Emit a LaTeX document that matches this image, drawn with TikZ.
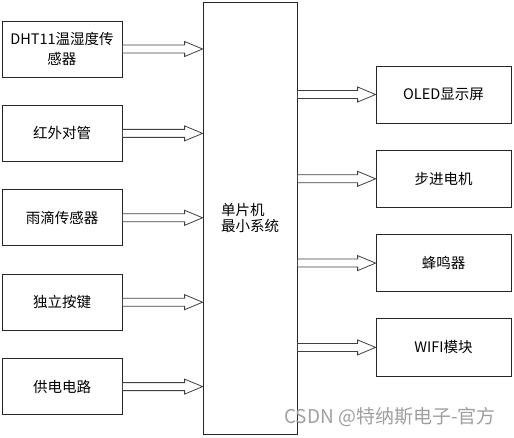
\documentclass[tikz,border=0pt]{standalone}
\usepackage{fontspec}
\setmainfont{Noto Sans CJK SC}
\usetikzlibrary{positioning,calc}

\begin{document}
\begin{tikzpicture}[
  x=1pt, y=1pt,
  node distance=27.6pt,
  box/.style={draw=black!85,line width=0.8pt,align=center,inner sep=0pt,font=\fontsize{14.5}{20}\selectfont},
  inbox/.style={box,minimum width=120pt,minimum height=56pt},
  outbox/.style={box,minimum width=135pt,minimum height=57pt},
  arrow/.style={draw=black!75,line width=0.8pt,to path={
    ($(\tikztostart)+(0,4)$) -- ($(\tikztotarget)+(-18,4)$) -- ($(\tikztotarget)+(-18,7.5)$)
    -- (\tikztotarget) -- ($(\tikztotarget)+(-18,-7.5)$) -- ($(\tikztotarget)+(-18,-4)$)
    -- ($(\tikztostart)+(0,-4)$) -- cycle}}
]
\useasboundingbox (0,0) rectangle (514,-438);
\node[inbox] (dht) at (62,-49) {DHT11温湿度传\\感器};
\node[inbox,below=of dht] (ir) {红外对管};
\node[inbox,below=of ir] (rain) {雨滴传感器};
\node[inbox,below=of rain] (key) {独立按键};
\node[inbox,below=of key] (power) {供电电路};
\node[box,minimum width=94pt,minimum height=432pt,align=left,font=\fontsize{14.5}{16}\selectfont] (mcu) at (250,-218) {单片机\\最小系统};
\node[outbox] (oled) at (443.5,-94.5) {OLED显示屏};
\node[outbox,below=26.5pt of oled] (motor) {步进电机};
\node[outbox,below=26.5pt of motor] (buzzer) {蜂鸣器};
\node[outbox,below=26.5pt of buzzer] (wifi) {WIFI模块};
\foreach \n in {dht,ir,rain,key,power}
  \draw[arrow] (\n.east) to (\n.east -| mcu.west);
\foreach \n in {oled,motor,buzzer,wifi}
  \draw[arrow] (\n.west -| mcu.east) to (\n.west);
\node[text=gray!75,font=\fontsize{19}{22}\selectfont] (mark) at (390,-417) {CSDN @特纳斯电子-官方};
\end{tikzpicture}
\end{document}
